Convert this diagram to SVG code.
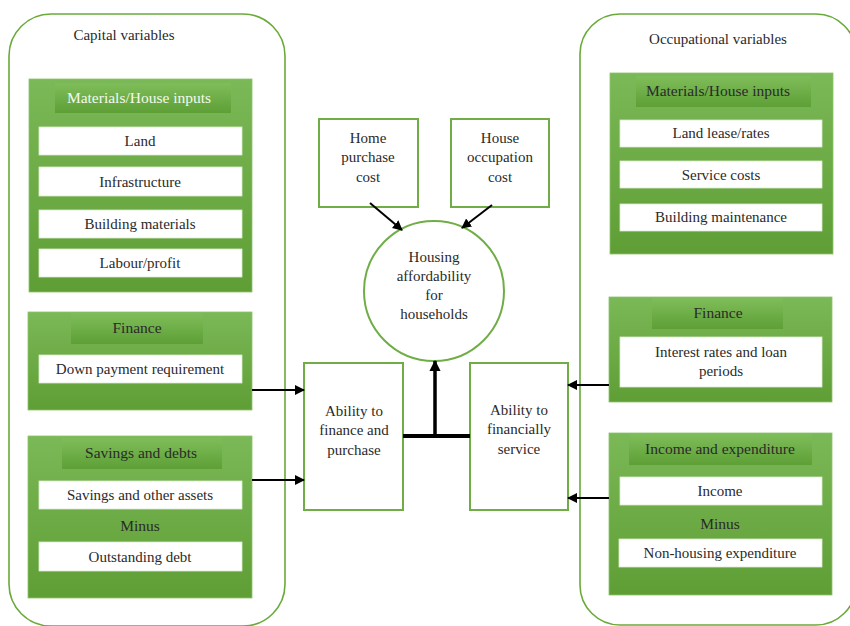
<svg xmlns="http://www.w3.org/2000/svg" width="850" height="626" viewBox="0 0 850 626">
  <style>
    text { font-family: "Liberation Serif", "Times New Roman", serif; font-size: 15px; fill: #2a2a2a; text-anchor: middle; }
    .hdr { font-size: 15.5px; }
    .hdr-light { fill: #f4f9ef; }
    .panel { fill: #fff; stroke: #6aaa3a; stroke-width: 1.6; }
    .gbox { fill: url(#gboxFill); stroke: #8cc46a; stroke-width: 0.8; }
    .hband { fill: url(#hbandFill); }
    .wrow { fill: #fff; stroke: #d9ead0; stroke-width: 0.8; }
    .cbox { fill: #fff; stroke: #70ad47; stroke-width: 2; }
    .link { stroke: #000; stroke-width: 2; fill: none; }
    .stem { stroke: #000; stroke-width: 3.5; fill: none; }
    .bar { stroke: #000; stroke-width: 4; fill: none; }
  </style>
  <defs>
    <linearGradient id="gboxFill" x1="0" y1="0" x2="0" y2="1">
      <stop offset="0" stop-color="#7bb857"/>
      <stop offset="1" stop-color="#5f9e35"/>
    </linearGradient>
    <linearGradient id="hbandFill" x1="0" y1="0" x2="0" y2="1">
      <stop offset="0" stop-color="#7fbd5a"/>
      <stop offset="1" stop-color="#5e9f36"/>
    </linearGradient>
    <marker id="arrow" viewBox="0 0 10 10" refX="9" refY="5" markerWidth="5" markerHeight="5" orient="auto" markerUnits="strokeWidth">
      <path d="M0,0 L10,5 L0,10 z" fill="#000"/>
    </marker>
    <marker id="arrowBig" viewBox="0 0 10 10" refX="9" refY="5" markerWidth="3.2" markerHeight="3.2" orient="auto" markerUnits="strokeWidth">
      <path d="M0,0 L10,5 L0,10 z" fill="#000"/>
    </marker>
  </defs>

  <rect width="850" height="626" fill="#fff"/>

  <!-- Left panel: capital variables -->
  <g id="capital-panel">
    <rect class="panel" x="9" y="14" width="276" height="612" rx="42" ry="42"/>
    <text x="124" y="40">Capital variables</text>
  </g>

  <g id="capital-materials">
    <rect class="gbox" x="29" y="79" width="223" height="213"/>
    <rect class="hband" x="55" y="83" width="176" height="30"/>
    <text class="hdr hdr-light" x="139" y="103">Materials/House inputs</text>
    <rect class="wrow" x="39" y="127" width="203" height="28"/>
    <text x="140" y="146">Land</text>
    <rect class="wrow" x="39" y="167" width="203" height="29"/>
    <text x="140" y="187">Infrastructure</text>
    <rect class="wrow" x="39" y="210" width="203" height="28"/>
    <text x="140" y="229">Building materials</text>
    <rect class="wrow" x="39" y="249" width="203" height="28"/>
    <text x="140" y="268">Labour/profit</text>
  </g>

  <g id="capital-finance">
    <rect class="gbox" x="28" y="312" width="224" height="98"/>
    <rect class="hband" x="71" y="313" width="132" height="31"/>
    <text class="hdr" x="137" y="333">Finance</text>
    <rect class="wrow" x="39" y="355" width="203" height="28"/>
    <text x="140" y="374">Down payment requirement</text>
  </g>

  <g id="capital-savings">
    <rect class="gbox" x="28" y="436" width="224" height="162"/>
    <rect class="hband" x="62" y="438" width="160" height="31"/>
    <text class="hdr" x="141" y="458">Savings and debts</text>
    <rect class="wrow" x="39" y="481" width="203" height="28"/>
    <text x="140" y="500">Savings and other assets</text>
    <text class="hdr" x="140" y="531">Minus</text>
    <rect class="wrow" x="39" y="542" width="203" height="29"/>
    <text x="140" y="562">Outstanding debt</text>
  </g>

  <!-- Right panel: occupational variables -->
  <g id="occupational-panel">
    <rect class="panel" x="580" y="14" width="276" height="611" rx="40" ry="40"/>
    <text x="718" y="44">Occupational variables</text>
  </g>

  <g id="occupational-materials">
    <rect class="gbox" x="610" y="73" width="223" height="181"/>
    <rect class="hband" x="636" y="76" width="175" height="31"/>
    <text class="hdr" x="718" y="96">Materials/House inputs</text>
    <rect class="wrow" x="620" y="120" width="202" height="27"/>
    <text x="721" y="138">Land lease/rates</text>
    <rect class="wrow" x="620" y="161" width="202" height="27"/>
    <text x="721" y="180">Service costs</text>
    <rect class="wrow" x="620" y="204" width="202" height="27"/>
    <text x="721" y="222">Building maintenance</text>
  </g>

  <g id="occupational-finance">
    <rect class="gbox" x="609" y="297" width="223" height="105"/>
    <rect class="hband" x="652" y="298" width="131" height="31"/>
    <text class="hdr" x="718" y="318">Finance</text>
    <rect class="wrow" x="620" y="337" width="202" height="50"/>
    <text x="721" y="357">Interest rates and loan</text>
    <text x="721" y="376">periods</text>
  </g>

  <g id="occupational-income">
    <rect class="gbox" x="609" y="433" width="223" height="162"/>
    <rect class="hband" x="629" y="434" width="183" height="31"/>
    <text class="hdr" x="720" y="454">Income and expenditure</text>
    <rect class="wrow" x="620" y="477" width="202" height="28"/>
    <text x="720" y="496">Income</text>
    <text class="hdr" x="720" y="529">Minus</text>
    <rect class="wrow" x="619" y="539" width="203" height="28"/>
    <text x="720" y="558">Non-housing expenditure</text>
  </g>

  <!-- Centre nodes -->
  <g id="home-purchase-cost">
    <rect class="cbox" x="319" y="119" width="99" height="88"/>
    <text x="368" y="143">Home</text>
    <text x="368" y="162">purchase</text>
    <text x="368" y="182">cost</text>
  </g>

  <g id="house-occupation-cost">
    <rect class="cbox" x="451" y="119" width="98" height="88"/>
    <text x="500" y="143">House</text>
    <text x="500" y="162">occupation</text>
    <text x="500" y="182">cost</text>
  </g>

  <g id="housing-affordability">
    <circle cx="434" cy="291" r="70" fill="#fff" stroke="#70ad47" stroke-width="2"/>
    <text x="434" y="262">Housing</text>
    <text x="434" y="281">affordability</text>
    <text x="434" y="300">for</text>
    <text x="434" y="319">households</text>
  </g>

  <g id="ability-finance-purchase">
    <rect class="cbox" x="304" y="363" width="99" height="147"/>
    <text x="354" y="416">Ability to</text>
    <text x="354" y="435">finance and</text>
    <text x="354" y="455">purchase</text>
  </g>

  <g id="ability-financially-service">
    <rect class="cbox" x="470" y="363" width="98" height="147"/>
    <text x="519" y="415">Ability to</text>
    <text x="519" y="434">financially</text>
    <text x="519" y="454">service</text>
  </g>

  <!-- Connectors -->
  <g id="connectors">
    <line class="link" x1="370" y1="203" x2="402" y2="230" marker-end="url(#arrow)"/>
    <line class="link" x1="492" y1="205" x2="462" y2="228" marker-end="url(#arrow)"/>
    <line class="link" x1="252" y1="390" x2="304" y2="390" marker-end="url(#arrow)"/>
    <line class="link" x1="252" y1="480" x2="304" y2="480" marker-end="url(#arrow)"/>
    <line class="link" x1="609" y1="385" x2="568" y2="385" marker-end="url(#arrow)"/>
    <line class="link" x1="609" y1="498" x2="568" y2="498" marker-end="url(#arrow)"/>
    <line class="bar" x1="403" y1="436" x2="470" y2="436"/>
    <line class="stem" x1="435" y1="436" x2="435" y2="361" marker-end="url(#arrowBig)"/>
  </g>
</svg>
